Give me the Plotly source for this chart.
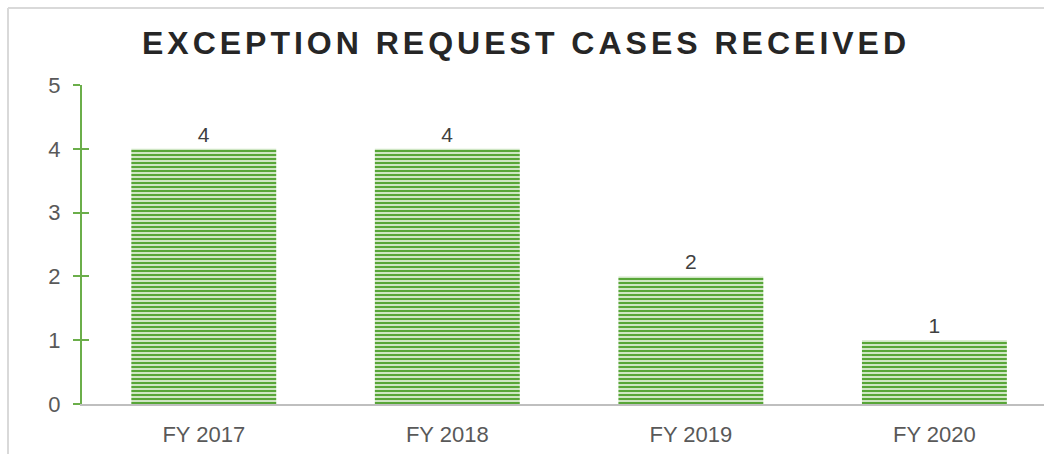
import plotly.graph_objects as go

categories = ["FY 2017", "FY 2018", "FY 2019", "FY 2020"]
values = [4, 4, 2, 1]
y_ticks = [0, 1, 2, 3, 4, 5]
title_text = "EXCEPTION REQUEST CASES RECEIVED"

GREEN = "#58A638"
AXIS_GREEN = "#6BAE4A"
TEXT = "#595959"
W, H = 1044, 454
L, R, T, B = 82, 0, 85, 50
pw, ph = W - L - R, H - T - B

fig = go.Figure()
fig.add_trace(go.Bar(
    x=categories, y=values, width=0.595,
    text=[str(v) for v in values], textposition="outside",
    textfont=dict(family="Liberation Sans, Arial, sans-serif", size=21, color="#404040"),
    marker=dict(color="#dcedd3", line=dict(width=0),
                pattern=dict(shape="-", fgcolor=GREEN, bgcolor="#dcedd3",
                             size=4, solidity=0.55, fillmode="replace")),
    cliponaxis=False, showlegend=False, hoverinfo="skip",
))
fig.add_trace(go.Scatter(x=categories, y=values, yaxis="y2", mode="markers",
                         marker=dict(opacity=0), showlegend=False, hoverinfo="skip"))

fig.update_layout(
    width=W, height=H,
    margin=dict(l=L, r=R, t=T, b=B, pad=0),
    paper_bgcolor="white", plot_bgcolor="white",
    title=dict(
        text='<span style="letter-spacing:4px">' + title_text + '</span>',
        x=526 / W, xanchor="center", xref="container",
        y=1 - 43 / H, yanchor="middle", yref="container",
        font=dict(family="Liberation Sans Narrow, Liberation Sans, Arial, sans-serif",
                  size=32, color="#262626", weight="bold"),
    ),
    xaxis=dict(
        type="category", range=[-0.5, 3.45],
        showline=True, linecolor="#bfbfbf", linewidth=2,
        ticks="", showgrid=False, zeroline=False,
        tickfont=dict(family="Liberation Sans, Arial, sans-serif", size=22, color=TEXT),
        ticklabelstandoff=10,
    ),
    yaxis=dict(
        range=[0, 5], tickvals=y_ticks,
        showline=True, linecolor=AXIS_GREEN, linewidth=2,
        ticks="outside", ticklen=7, tickwidth=2, tickcolor=AXIS_GREEN,
        showgrid=False, zeroline=False,
        tickfont=dict(family="Liberation Sans, Arial, sans-serif", size=22, color=TEXT),
        ticklabelstandoff=8,
    ),
    yaxis2=dict(
        overlaying="y", anchor="x", side="left",
        range=[0, 5], tickvals=y_ticks,
        showline=False, ticks="inside", ticklen=7, tickwidth=2, tickcolor=AXIS_GREEN,
        showticklabels=False, showgrid=False, zeroline=False,
    ),
    shapes=[
        dict(type="line", xref="paper", yref="paper",
             x0=(8 - L) / pw, x1=(8 - L) / pw, y0=-B / ph, y1=1 + (T - 8) / ph,
             line=dict(color="#d9d9d9", width=2)),
        dict(type="line", xref="paper", yref="paper",
             x0=(8 - L) / pw, x1=1.0, y0=1 + (T - 8) / ph, y1=1 + (T - 8) / ph,
             line=dict(color="#d9d9d9", width=2)),
    ],
)

fig.write_html("out.html", config={"displayModeBar": False},
               post_script="document.body.style.margin='0';document.body.style.overflow='hidden';"
                           "document.documentElement.style.overflow='hidden';")
